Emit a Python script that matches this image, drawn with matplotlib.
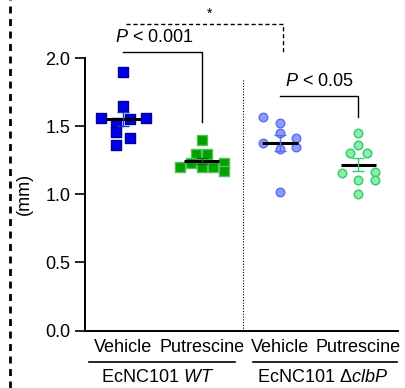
import matplotlib
matplotlib.use("Agg")
import matplotlib.pyplot as plt
from matplotlib.lines import Line2D
import numpy as np

plt.rcParams["font.family"] = ["Liberation Sans", "DejaVu Sans"]
plt.rcParams["mathtext.fontset"] = "custom"
plt.rcParams["mathtext.rm"] = "Liberation Sans"
plt.rcParams["mathtext.it"] = "Liberation Sans:italic"

# Data (mm)
veh_wt = [1.90, 1.65, 1.557, 1.557, 1.55, 1.52, 1.46, 1.41, 1.36]
veh_wt_dx = [0.0, 0.0, -0.28, 0.29, 0.09, -0.09, -0.09, 0.09, -0.09]
put_wt = [1.398, 1.295, 1.295, 1.227, 1.198, 1.198, 1.198, 1.227, 1.168]
put_wt_dx = [0.0, -0.07, 0.07, -0.14, -0.28, 0.0, 0.14, 0.29, 0.29]
veh_clb = [1.569, 1.521, 1.452, 1.374, 1.41, 1.349, 1.33, 1.019]
veh_clb_dx = [-0.21, 0.0, 0.0, -0.21, 0.21, 0.21, 0.0, 0.0]
put_clb = [1.447, 1.361, 1.30, 1.30, 1.154, 1.166, 1.105, 1.105, 1.0]
put_clb_dx = [0.0, 0.0, -0.11, 0.11, -0.21, 0.21, 0.0, 0.21, 0.0]

groups = [veh_wt, put_wt, veh_clb, put_clb]
offsets = [veh_wt_dx, put_wt_dx, veh_clb_dx, put_clb_dx]
tick_labels = ["Vehicle", "Putrescine", "Vehicle", "Putrescine"]
strain_labels = ["EcNC101 $\\mathit{WT}$", "EcNC101 \u0394$\\mathit{clbP}$"]

markers = ["s", "s", "o", "o"]
faces = ["#0000e6", "#00a000", "#8c9cff", "#88eea8"]
edges = ["#0000a0", "#55c055", "#5a6cf0", "#30c870"]
errc = ["#2030d0", "#107010", "#5a6cf0", "#30c870"]

fig = plt.figure(figsize=(4.05, 3.88), dpi=100)
ax = fig.add_axes([0.21, 0.148, 0.773, 0.7025])

for i, (vals, dx) in enumerate(zip(groups, offsets)):
    xs = i + np.array(dx)
    ax.scatter(xs, vals, marker=markers[i], s=44 if markers[i] == "s" else 38,
               facecolor=faces[i], edgecolor=edges[i], linewidth=1.0,
               zorder=3, clip_on=False)
    m = np.mean(vals)
    sem = np.std(vals, ddof=1) / np.sqrt(len(vals))
    ax.plot([i - 0.225, i + 0.225], [m, m], color="black", lw=2.2, zorder=4,
            solid_capstyle="butt")
    ax.errorbar(i, m, yerr=sem, color=errc[i], capsize=4, lw=1.0,
                capthick=1.0, zorder=5)

ax.set_xlim(-0.49, 3.51)
ax.set_ylim(0, 2.0)
ax.set_yticks([0, 0.5, 1.0, 1.5, 2.0])
ax.set_yticklabels(["0.0", "0.5", "1.0", "1.5", "2.0"])
ax.set_xticks(range(4))
ax.set_xticklabels(tick_labels)
ax.tick_params(axis="x", length=0, pad=6, labelsize=13)
ax.tick_params(axis="y", length=7, width=1.2, labelsize=13)
for s in ["top", "right"]:
    ax.spines[s].set_visible(False)
for s in ["left", "bottom"]:
    ax.spines[s].set_linewidth(1.4)
ax.set_ylabel("(mm)", fontsize=13, labelpad=9)

# separator between strains
ax.plot([1.53, 1.53], [0, 1.846], color="black", lw=0.8, ls=(0, (1, 1.5)))

# significance brackets
ax.plot([-0.01, 1.0, 1.0], [2.046, 2.046, 1.533], color="black", lw=1.0,
        clip_on=False)
ax.text(0.4, 2.09, "$P$ < 0.001", ha="center", va="bottom", fontsize=13)
ax.plot([2.0, 3.0, 3.0], [1.723, 1.723, 1.567], color="black", lw=1.0,
        clip_on=False)
ax.text(2.5, 1.765, "$P$ < 0.05", ha="center", va="bottom", fontsize=13)
ax.plot([0.03, 2.04, 2.04], [2.25, 2.25, 2.04], color="black", lw=1.0,
        ls=(0, (3, 2)), clip_on=False)
ax.text(1.1, 2.27, "*", ha="center", va="bottom", fontsize=10)

# strain underlines and labels
for x0, x1, lab, xc in [(-0.435, 1.43, strain_labels[0], 0.44),
                        (1.65, 3.5, strain_labels[1], 2.55)]:
    ax.plot([x0, x1], [-0.23, -0.23], color="black", lw=1.2, clip_on=False)
    ax.text(xc, -0.345, lab, ha="center", va="center", fontsize=13)

# dashed left frame border
fig.add_artist(Line2D([10 / 405, 10 / 405], [0, 1], color="black", lw=2,
                      ls=(0, (2.5, 2))))

fig.savefig("out.png", dpi=100)
